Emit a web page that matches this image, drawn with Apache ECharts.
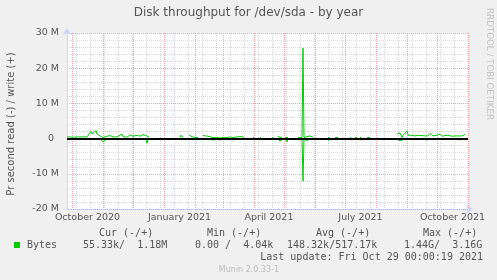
<!DOCTYPE html>
<html><head><meta charset="utf-8">
<script src="https://cdn.jsdelivr.net/npm/echarts@6/dist/echarts.min.js"></script>
<style>html,body{margin:0;padding:0;background:#f0f0f0;}#c{width:497px;height:280px;}</style>
</head><body><div id="c"></div>
<script>
// ---- data (values in M bytes per second) ----
const dates = [
'2020-09-26','2020-09-29','2020-10-02','2020-10-04','2020-10-07','2020-10-11','2020-10-12','2020-10-16','2020-10-18','2020-10-20',
'2020-10-21','2020-10-22','2020-10-23','2020-10-25','2020-10-26','2020-10-27','2020-10-29','2020-10-31','2020-11-01','2020-11-03',
'2020-11-05','2020-11-08','2020-11-10','2020-11-11','2020-11-13','2020-11-15','2020-11-17','2020-11-20','2020-11-21','2020-11-23',
'2020-11-25','2020-11-26','2020-11-28','2020-11-30','2020-12-01','2020-12-03','2020-12-05','2020-12-08','2020-12-10','2020-12-11',
'2020-12-13','2020-12-14','2020-12-15','2020-12-16','2020-12-17','2020-12-18',
'2021-01-17','2021-01-18','2021-01-19','2021-01-20','2021-01-22',
'2021-01-26','2021-01-28','2021-01-29','2021-01-31','2021-02-03','2021-02-04','2021-02-06',
'2021-02-09','2021-02-11','2021-02-14','2021-02-16','2021-02-19','2021-02-23','2021-02-26','2021-03-01','2021-03-05','2021-03-08',
'2021-03-11','2021-03-15','2021-03-18','2021-03-21','2021-03-22','2021-03-24',
'2021-03-31','2021-04-01','2021-04-03','2021-04-07','2021-04-08','2021-04-10','2021-04-19','2021-04-20','2021-04-22',
'2021-04-25','2021-04-27','2021-04-29','2021-04-30','2021-05-02','2021-05-04','2021-05-05','2021-05-07',
'2021-05-15','2021-05-17','2021-05-19','2021-05-20','2021-05-21','2021-05-24','2021-05-25','2021-05-27','2021-05-29','2021-05-30','2021-06-01',
'2021-06-14','2021-06-16','2021-06-18','2021-06-21','2021-06-24','2021-06-26','2021-07-06','2021-07-07','2021-07-09',
'2021-07-11','2021-07-13','2021-07-14','2021-07-16','2021-07-17','2021-07-19','2021-07-23','2021-07-26','2021-07-28',
'2021-08-22','2021-08-23','2021-08-25','2021-08-27','2021-08-28','2021-08-30','2021-09-01','2021-09-02','2021-09-04','2021-09-06',
'2021-09-07','2021-09-09','2021-09-11','2021-09-12','2021-09-14','2021-09-16','2021-09-17','2021-09-19','2021-09-21','2021-09-22',
'2021-09-24','2021-09-26','2021-09-27','2021-09-29','2021-10-01','2021-10-02','2021-10-04','2021-10-06','2021-10-07','2021-10-09',
'2021-10-11','2021-10-12','2021-10-14','2021-10-16','2021-10-17','2021-10-19','2021-10-21','2021-10-22','2021-10-24','2021-10-26',
'2021-10-27','2021-10-29'
];
const writeM = [
0.48,0.48,0.40,0.20,0.48,0.48,0.86,0.48,1.30,2.00,
1.30,0.86,1.70,2.30,1.30,0.86,0.76,0.67,0.30,0.40,
0.67,0.86,0.67,0.48,0.86,0.48,0.86,1.30,0.57,0.86,
0.38,0.20,1.05,0.86,0.67,0.38,0.95,0.67,0.86,1.14,
1.52,0.86,0.30,0.57,0.40,null,
0.30,0.95,0.48,0.30,null,
1.05,0.67,0.48,0.76,0.30,0.30,null,
0.86,0.95,0.67,0.30,0.30,0.30,0.20,0.30,0.30,0.48,
0.30,0.48,0.57,0.48,0.30,null,
0.30,0.30,null,0.30,0.30,null,0.30,0.30,null,
0.57,0.30,0.30,null,0.30,0.20,0.30,null,
0.30,0.30,0.30,25.70,0.30,0.57,0.30,0.76,0.50,0.40,null,
0.30,0.20,null,0.30,0.30,null,0.20,0.20,null,
0.30,0.30,null,0.30,0.30,null,0.30,0.30,null,
1.24,1.70,1.60,0.30,0.95,0.76,2.20,0.95,0.48,0.95,
1.24,0.76,0.67,0.95,0.48,0.86,0.48,0.76,0.95,0.76,
1.43,0.95,0.76,1.24,0.95,0.86,1.24,0.67,0.95,0.86,
0.67,0.95,0.76,0.67,0.86,0.76,0.67,0.76,0.48,0.76,
0.95,1.18
];
const readM = [
-0.15,-0.10,-0.20,-0.76,-0.15,-0.10,-0.20,-0.15,-0.10,-0.20,
-0.15,-0.10,-0.20,-0.15,-0.10,-0.20,-0.15,-0.20,-0.86,-0.30,
-0.10,-0.15,-0.10,-0.20,-0.15,-0.10,-0.20,-0.15,-0.10,-0.20,
-0.15,-0.30,-0.10,-0.15,-0.10,-0.20,-0.15,-0.10,-0.20,-0.15,
-0.10,-0.30,-1.33,-0.20,-0.10,null,
-0.10,-0.15,-0.10,-0.10,null,
-0.10,-0.15,-0.10,-0.20,-0.10,-0.10,null,
-0.10,-0.15,-0.10,-0.10,-0.40,-0.10,-0.40,-0.10,-0.10,-0.15,
-0.10,-0.10,-0.15,-0.10,-0.10,null,
-0.10,-0.10,null,-0.10,-0.10,null,-0.10,-0.10,null,
-0.10,-0.76,-0.10,null,-0.10,-0.95,-0.10,null,
-0.10,-0.10,-0.10,-12.10,-0.10,-0.57,-0.10,-0.10,-0.20,-0.10,null,
-0.57,-0.10,null,-0.10,-0.10,null,-0.10,-0.10,null,
-0.10,-0.10,null,-0.10,-0.10,null,-0.10,-0.10,null,
-0.20,-0.50,-0.60,-0.50,-0.30,-0.20,-0.10,-0.15,-0.20,-0.10,
-0.15,-0.10,-0.20,-0.10,-0.15,-0.10,-0.20,-0.10,-0.40,-0.15,
-0.10,-0.20,-0.10,-0.15,-0.10,-0.20,-0.10,-0.15,-0.10,-0.20,
-0.10,-0.15,-0.10,-0.20,-0.10,-0.15,-0.10,-0.20,-0.40,-0.10,
-0.15,-0.055
];
const zeroLine = 0;
const yTickValues = [-20, -10, 0, 10, 20, 30];
const yTickLabels = ['-20 M', '-10 M', '0', '10 M', '20 M', '30 M'];
const xLabelMonths = [[2020, 9], [2021, 0], [2021, 3], [2021, 6], [2021, 9]];
const xLabels = ['October 2020', 'January 2021', 'April 2021', 'July 2021', 'October 2021'];
const legendHeaders = ['Cur (-/+)', 'Min (-/+)', 'Avg (-/+)', 'Max (-/+)'];
const legendName = 'Bytes';
const legendValues = ['55.33k/  1.18M', '0.00 /  4.04k', '148.32k/517.17k', '1.44G/  3.16G'];
const titleText = 'Disk throughput for /dev/sda - by year';
const yName = 'Pr second read (-) / write (+)';
const lastUpdate = 'Last update: Fri Oct 29 00:00:19 2021';
const versionText = 'Munin 2.0.33-1';
const watermark = 'RRDTOOL / TOBI OETIKER';
const xMinDate = '2020-09-26', xMaxDate = '2021-11-01';

// ---- helpers ----
const ts = (s) => { const p = s.split('-'); return new Date(+p[0], +p[1] - 1, +p[2]).getTime(); };
const xMin = ts(xMinDate), xMax = ts(xMaxDate);
const monthStarts = [];
for (let i = 0; i < 14; i++) monthStarts.push(new Date(2020, 9 + i, 1).getTime());
const biweekly = [];
for (let i = 0; i < 30; i++) { const t = new Date(2020, 9, 5 + 14 * i).getTime(); if (t <= xMax) biweekly.push(t); }
const labelPos = xLabelMonths.map(([y, m]) => (new Date(y, m, 1).getTime() + new Date(y, m + 1, 1).getTime()) / 2);

const GREEN = '#00cc00', FONT = '#555555', SANS = 'DejaVu Sans';
const AXIS = '#cfd6f8', MGRID = '#ffa0a0', GRID = '#d9d9d9';

const writeData = dates.map((d, i) => [ts(d), writeM[i]]);
const readData = dates.map((d, i) => [ts(d), readM[i]]);

const chart = echarts.init(document.getElementById('c'), null, { renderer: 'canvas' });
const graphic = [
  { type: 'text', x: 248.5, y: 13, style: { text: titleText, fill: FONT, font: '12px "DejaVu Sans"', align: 'center', verticalAlign: 'middle' } },
  { type: 'text', x: 11, y: 124, rotation: Math.PI / 2, style: { text: yName, fill: FONT, font: '10px "DejaVu Sans"', align: 'center', verticalAlign: 'middle' } },
  { type: 'text', x: 489, y: 64, rotation: -Math.PI / 2, style: { text: watermark, fill: '#c4c4c4', font: '8.7px "DejaVu Sans"', align: 'center', verticalAlign: 'middle' } },
  { type: 'rect', shape: { x: 14, y: 242, width: 6, height: 6 }, style: { fill: GREEN } },
  { type: 'text', x: 27, y: 245.5, style: { text: legendName, fill: FONT, font: '10px "DejaVu Sans Mono"', verticalAlign: 'middle' } },
  { type: 'text', x: 483, y: 257.5, style: { text: lastUpdate, fill: FONT, font: '10px "DejaVu Sans Mono"', align: 'right', verticalAlign: 'middle' } },
  { type: 'text', x: 249, y: 269.5, style: { text: versionText, fill: '#bdbdbd', font: '8px "DejaVu Sans"', align: 'center', verticalAlign: 'middle' } }
];
const hx = [99, 207, 316, 423], vx = [83, 195, 287, 404];
legendHeaders.forEach((t, i) => graphic.push({ type: 'text', x: hx[i], y: 233.5, style: { text: t, fill: FONT, font: '10px "DejaVu Sans Mono"', verticalAlign: 'middle' } }));
legendValues.forEach((t, i) => graphic.push({ type: 'text', x: vx[i], y: 245.5, style: { text: t, fill: FONT, font: '10px "DejaVu Sans Mono"', verticalAlign: 'middle' } }));

chart.setOption({
  animation: false,
  backgroundColor: '#f0f0f0',
  grid: { left: 67, right: 29, top: 33, bottom: 71, containLabel: false, outerBoundsMode: 'none', show: true, backgroundColor: '#ffffff', borderWidth: 0 },
  xAxis: [
    {
      type: 'value', min: xMin, max: xMax, position: 'bottom', z: 1,
      axisLine: { show: true, onZero: false, lineStyle: { color: AXIS, width: 1 }, symbol: ['none', 'arrow'], symbolSize: [7, 7], symbolOffset: [0, 5] },
      axisTick: { show: false, customValues: biweekly },
      axisLabel: {
        show: true, customValues: labelPos, margin: 4, color: FONT, fontFamily: SANS, fontSize: 9.5, showMinLabel: true, showMaxLabel: true, hideOverlap: false,
        formatter: (v) => { let k = 0, best = Infinity; labelPos.forEach((p, i) => { if (Math.abs(p - v) < best) { best = Math.abs(p - v); k = i; } }); return xLabels[k]; }
      },
      splitLine: { show: true, lineStyle: { color: GRID, type: [1, 1], width: 1 } }
    },
    {
      type: 'value', min: xMin, max: xMax, position: 'bottom', z: 2,
      axisLine: { show: false, onZero: false }, axisTick: { show: false, customValues: monthStarts }, axisLabel: { show: false, customValues: monthStarts },
      splitLine: { show: true, lineStyle: { color: MGRID, type: [1, 1], width: 1 } }
    }
  ],
  yAxis: {
    type: 'value', min: yTickValues[0], max: yTickValues[yTickValues.length - 1], interval: 10, z: 2,
    axisLine: { show: true, onZero: false, lineStyle: { color: AXIS, width: 1 }, symbol: ['none', 'arrow'], symbolSize: [7, 7], symbolOffset: [0, 5] },
    axisTick: { show: false },
    minorTick: { show: false, splitNumber: 5 },
    minorSplitLine: { show: true, lineStyle: { color: GRID, type: [1, 1], width: 1 } },
    splitLine: { show: true, lineStyle: { color: MGRID, type: [1, 1], width: 1 } },
    axisLabel: {
      color: FONT, fontFamily: SANS, fontSize: 9.5, margin: 8,
      formatter: (v) => { const i = yTickValues.indexOf(Math.round(v)); const s = i >= 0 ? yTickLabels[i] : ''; return s === '0' ? '{z|0}' : s; },
      rich: { z: { padding: [0, 5, 0, 0], color: FONT, fontFamily: SANS, fontSize: 9.5 } }
    }
  },
  series: [
    { name: 'read', type: 'line', xAxisIndex: 0, data: readData, showSymbol: false, connectNulls: false, lineStyle: { color: GREEN, width: 1 }, itemStyle: { color: GREEN }, z: 3 },
    { name: 'write', type: 'line', xAxisIndex: 0, data: writeData, showSymbol: false, connectNulls: false, lineStyle: { color: GREEN, width: 1 }, itemStyle: { color: GREEN }, z: 3,
      markLine: { silent: true, symbol: 'none', label: { show: false }, lineStyle: { color: '#000000', width: 2, type: 'solid' }, data: [{ yAxis: zeroLine }] } }
  ],
  graphic: graphic
});
</script></body></html>
